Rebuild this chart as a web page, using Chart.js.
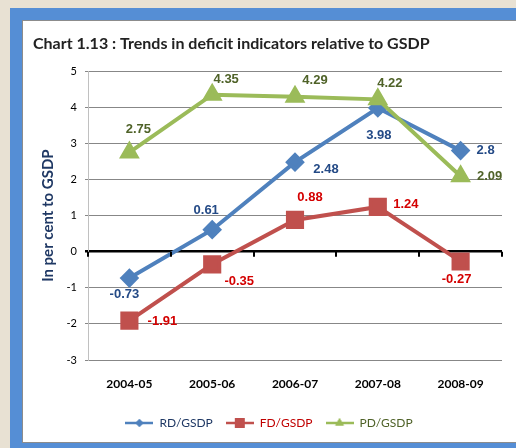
<!DOCTYPE html>
<html>
<head>
<meta charset="utf-8">
<script src="https://cdn.jsdelivr.net/npm/chart.js@4.4.0/dist/chart.umd.min.js"></script>
<style>
  html, body { margin: 0; padding: 0; }
  body { width: 516px; height: 448px; background: #e8e1d3; position: relative; overflow: hidden; }
  #frame { position: absolute; left: 10px; top: 8px; width: 506px; height: 440px; background: #558ed5; }
  #panel { position: absolute; left: 12px; top: 12px; width: 494px; height: 423px; background: #fff; }
  #panel canvas { position: absolute; left: 0; top: 0; }
  #edge { position: absolute; left: 0; top: 0; width: 494px; height: 423px; box-sizing: border-box;
          border-left: 1px solid #8c8c8c; border-top: 1px solid #8c8c8c; border-bottom: 1px solid #8c8c8c; pointer-events: none; }
</style>
</head>
<body>
<div id="frame">
  <div id="panel">
    <canvas id="chartId" width="494" height="423"></canvas>
    <div id="edge"></div>
  </div>
</div>
<script>
const years = ["2004-05", "2005-06", "2006-07", "2007-08", "2008-09"];
const rdGsdp = [-0.73, 0.61, 2.48, 3.98, 2.8];
const fdGsdp = [-1.91, -0.35, 0.88, 1.24, -0.27];
const pdGsdp = [2.75, 4.35, 4.29, 4.22, 2.09];
const yTicks = [-3, -2, -1, 0, 1, 2, 3, 4, 5];

// where each value label sits relative to its point (px)
const labelShift = {
  rd: [[-5, 16], [-6, -19], [31, 7], [1, 27], [25, 0]],
  fd: [[33, 1], [27, 17], [15, -23], [28, -3], [-4, 18]],
  pd: [[9, -23], [14, -15], [20, -16], [12, -16], [29, 0]],
};

// little line+marker picture for the legend
function legendMark(color, style, radius) {
  const c = document.createElement("canvas");
  c.width = 28;
  c.height = 14;
  const ctx = c.getContext("2d");
  ctx.strokeStyle = color;
  ctx.lineWidth = 2.5;
  ctx.beginPath();
  ctx.moveTo(0, 7);
  ctx.lineTo(28, 7);
  ctx.stroke();
  ctx.fillStyle = color;
  Chart.helpers.drawPoint(ctx, { pointStyle: style, radius: radius, borderWidth: 0 }, 14, 7);
  ctx.fill();
  return c;
}

const valueLabels = {
  id: "valueLabels",
  afterDatasetsDraw(chart) {
    const ctx = chart.ctx;
    ctx.save();
    ctx.font = "bold 13px 'Liberation Sans', Arial, sans-serif";
    ctx.textAlign = "center";
    ctx.textBaseline = "middle";
    chart.data.datasets.forEach((ds, i) => {
      const meta = chart.getDatasetMeta(i);
      ctx.fillStyle = ds.labelColor;
      meta.data.forEach((pt, j) => {
        const s = labelShift[ds.key][j];
        ctx.fillText(String(ds.data[j]), pt.x + s[0], pt.y + s[1]);
      });
    });
    ctx.restore();
  },
};

const zeroTicks = {
  id: "zeroTicks",
  afterDatasetsDraw(chart) {
    const x = chart.scales.x;
    const y0 = chart.scales.y.getPixelForValue(0);
    const step = (x.right - x.left) / years.length;
    const ctx = chart.ctx;
    ctx.save();
    ctx.strokeStyle = "#000";
    ctx.lineWidth = 2;
    for (let i = 0; i <= years.length; i++) {
      const px = Math.round(x.left + i * step);
      ctx.beginPath();
      ctx.moveTo(px, y0);
      ctx.lineTo(px, y0 + 5);
      ctx.stroke();
    }
    ctx.restore();
  },
};

const chrt = document.getElementById("chartId").getContext("2d");

const chartId = new Chart(chrt, {
  type: "line",
  data: {
    labels: years,
    datasets: [
      {
        key: "rd",
        label: "RD/GSDP",
        data: rdGsdp,
        borderColor: "#4f81bd",
        backgroundColor: "#4f81bd",
        borderWidth: 4,
        pointStyle: "rectRot",
        pointRadius: 7,
        labelColor: "#244a86",
        legendColor: "#1f3864",
        order: 3,
      },
      {
        key: "fd",
        label: "FD/GSDP",
        data: fdGsdp,
        borderColor: "#c0504d",
        backgroundColor: "#c0504d",
        borderWidth: 4,
        pointStyle: "rect",
        pointRadius: 10,
        labelColor: "#d40000",
        legendColor: "#c00000",
        order: 2,
      },
      {
        key: "pd",
        label: "PD/GSDP",
        data: pdGsdp,
        borderColor: "#9bbb59",
        backgroundColor: "#9bbb59",
        borderWidth: 4,
        pointStyle: "triangle",
        pointRadius: 8,
        labelColor: "#4f6228",
        legendColor: "#4f6228",
        order: 1,
      },
    ],
  },
  options: {
    responsive: false,
    animation: false,
    layout: { padding: { left: 11, right: 11, top: 9, bottom: 4 } },
    elements: { line: { tension: 0 }, point: { borderWidth: 0 } },
    plugins: {
      tooltip: { enabled: false },
      title: {
        display: true,
        text: "Chart 1.13 : Trends in deficit indicators relative to GSDP",
        align: "start",
        color: "#222",
        font: { family: "Lato", size: 16, weight: "bold" },
        padding: { top: 5, bottom: 18 },
      },
      legend: {
        position: "bottom",
        labels: {
          usePointStyle: true,
          pointStyleWidth: 28,
          padding: 13,
          font: { family: "Lato", size: 12 },
          sort: (a, b) => a.datasetIndex - b.datasetIndex,
          generateLabels(chart) {
            const marks = { rd: ["rectRot", 4], fd: ["rect", 7], pd: ["triangle", 5] };
            return chart.data.datasets.map((ds, i) => ({
              text: ds.label,
              datasetIndex: i,
              fontColor: ds.legendColor,
              pointStyle: legendMark(ds.borderColor, marks[ds.key][0], marks[ds.key][1]),
              fillStyle: ds.borderColor,
              strokeStyle: ds.borderColor,
              lineWidth: 0,
              hidden: false,
            }));
          },
        },
      },
    },
    scales: {
      x: {
        offset: true,
        grid: { display: false, drawTicks: false, offset: true },
        border: { display: false },
        afterFit: (scale) => {
          scale.height = 44;
        },
        ticks: {
          padding: 17,
          color: "#000",
          font: { family: "Lato", size: 12, weight: "bold" },
        },
      },
      y: {
        min: -3,
        max: 5,
        afterBuildTicks: (scale) => {
          scale.ticks = yTicks.map((v) => ({ value: v }));
        },
        afterFit: (scale) => {
          scale.width = 55;
        },
        grid: {
          color: (c) => (c.tick && c.tick.value === 0 ? "#000" : "#878787"),
          lineWidth: (c) => (c.tick && c.tick.value === 0 ? 2.5 : 1),
          tickLength: 3,
        },
        border: { color: "#c0c0c0" },
        ticks: {
          padding: 8,
          color: "#000",
          font: { family: "Lato", size: 11 },
        },
        title: {
          display: true,
          text: "In per cent to GSDP",
          color: "#1f3864",
          font: { family: "Lato", size: 15, weight: "bold" },
          padding: { top: 6, bottom: 6 },
        },
      },
    },
  },
  plugins: [valueLabels, zeroTicks],
});
</script>
</body>
</html>
